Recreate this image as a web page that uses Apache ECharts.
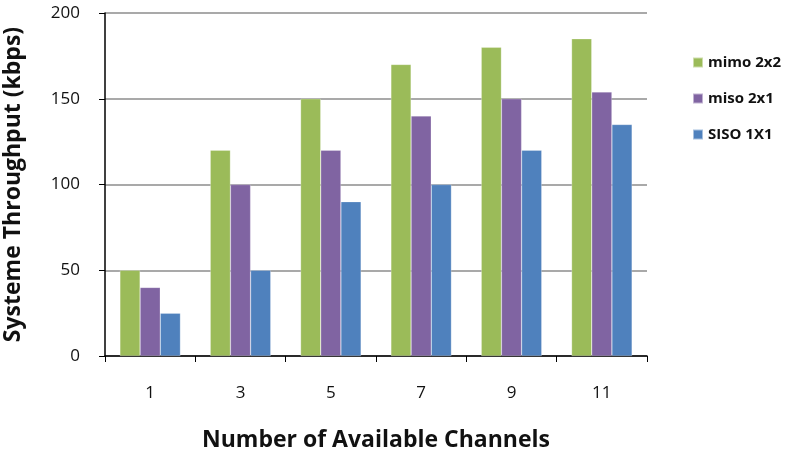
<!DOCTYPE html>
<html>
<head>
<meta charset="utf-8">
<script src="https://cdn.jsdelivr.net/npm/echarts@6/dist/echarts.min.js"></script>
<style>html,body{margin:0;padding:0;background:#fff;}#c{width:789px;height:456px;}</style>
</head>
<body>
<div id="c"></div>
<script>
const categories = ['1', '3', '5', '7', '9', '11'];
const mimo = [50, 120, 150, 170, 180, 185];
const miso = [40, 100, 120, 140, 150, 154];
const siso = [25, 50, 90, 100, 120, 135];
const seriesNames = ['mimo 2x2', 'miso 2x1', 'SISO 1X1'];
const colors = ['#9BBB59', '#8064A2', '#4F81BD'];
const yTicks = [0, 50, 100, 150, 200];

const font = '"Open Sans", Lato, sans-serif';
const chart = echarts.init(document.getElementById('c'));
const mk = (name, data, color) => ({
  name: name, type: 'bar', data: data, barGap: '0%', barCategoryGap: '33%',
  itemStyle: { color: color, borderColor: 'rgba(255,255,255,0.5)', borderWidth: 0.5 }
});
chart.setOption({
  animation: false,
  color: colors,
  grid: { left: 105, right: 142, top: 13, bottom: 100, containLabel: false, outerBoundsMode: 'none' },
  legend: {
    orient: 'vertical', left: 687, top: 50, itemWidth: 10, itemHeight: 10, itemGap: 21,
    icon: 'rect',
    textStyle: { fontFamily: font, fontSize: 15, fontWeight: 'bold', color: '#111' },
    data: seriesNames
  },
  xAxis: {
    type: 'category', data: categories,
    name: 'Number of Available Channels', nameLocation: 'middle', nameGap: 73,
    nameTextStyle: { fontFamily: font, fontSize: 23, fontWeight: 'bold', color: '#111' },
    axisLine: { lineStyle: { color: '#000', width: 1.5 } },
    axisTick: { show: true, length: 6, lineStyle: { color: '#000' } },
    axisLabel: { fontFamily: font, fontSize: 17, color: '#111', margin: 29 }
  },
  yAxis: {
    type: 'value', min: yTicks[0], max: yTicks[yTicks.length - 1], interval: 50,
    name: 'Systeme Throughput (kbps)', nameLocation: 'middle', nameGap: 80,
    nameTextStyle: { fontFamily: font, fontSize: 23, fontWeight: 'bold', color: '#111' },
    axisLine: { show: true, lineStyle: { color: '#000', width: 1.5 } },
    axisTick: { show: true, length: 6, lineStyle: { color: '#000' } },
    axisLabel: { fontFamily: font, fontSize: 17, color: '#111', margin: 25 },
    splitLine: { lineStyle: { color: '#8c8c8c', width: 1.5 } }
  },
  series: [mk(seriesNames[0], mimo, colors[0]), mk(seriesNames[1], miso, colors[1]), mk(seriesNames[2], siso, colors[2])]
});
</script>
</body>
</html>
